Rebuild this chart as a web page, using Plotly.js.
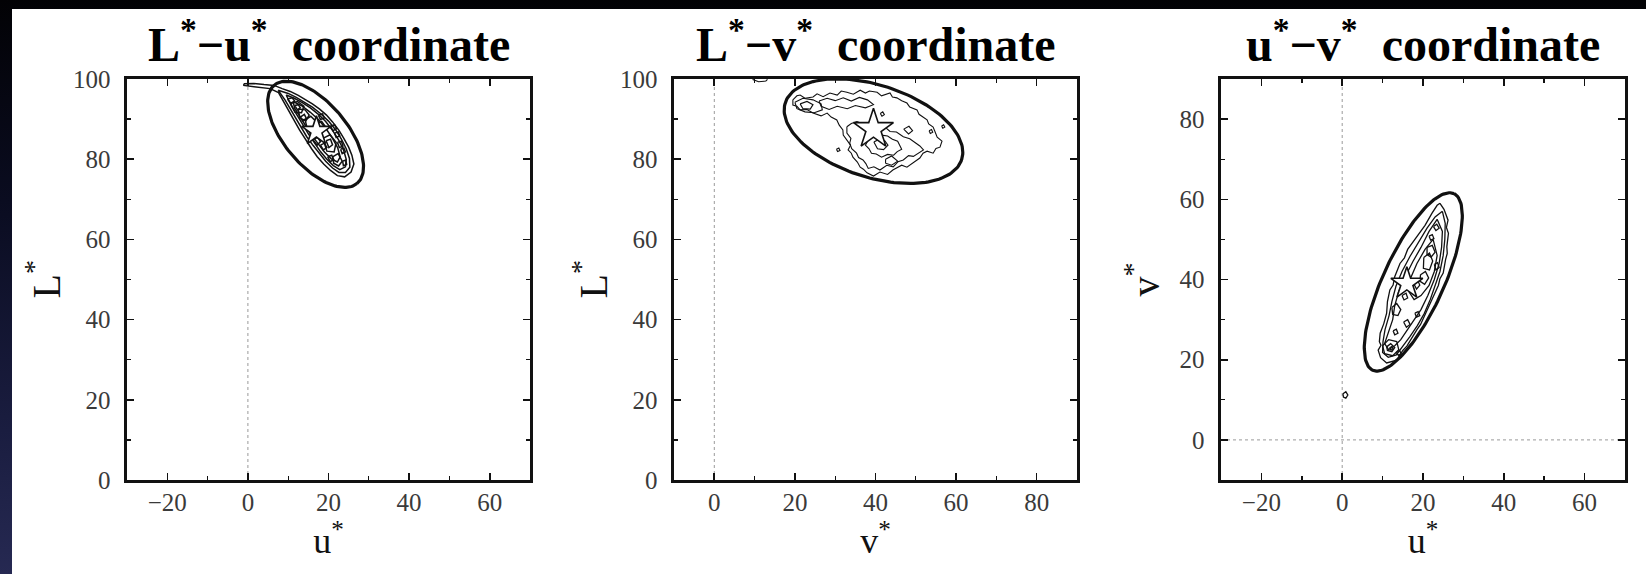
<!DOCTYPE html>
<html><head><meta charset="utf-8">
<script src="https://cdn.plot.ly/plotly-3.0.1.min.js"></script>
<style>
html,body{margin:0;padding:0;width:1646px;height:574px;overflow:hidden;
background:linear-gradient(to bottom,#020205 0%,#0a0c20 35%,#1a1d40 75%,#262952 100%);}
#chart{position:absolute;left:12px;top:9px;width:1634px;height:565px;background:#fff;}
</style></head><body><div id="chart"></div>
<script>
// ---------------- data ----------------
const panelTitles = ['L<sup>*</sup>\u2212u<sup>*</sup>\u00a0 coordinate',
                     'L<sup>*</sup>\u2212v<sup>*</sup>\u00a0 coordinate',
                     'u<sup>*</sup>\u2212v<sup>*</sup>\u00a0 coordinate'];
const xTitles = ['u<sup>*</sup>', 'v<sup>*</sup>', 'u<sup>*</sup>'];
const yTitles = ['L<sup>*</sup>', 'L<sup>*</sup>', 'v<sup>*</sup>'];
const xRanges = [[-30, 70], [-10, 90], [-30, 70]];
const yRanges = [[0, 100], [0, 100], [-10, 90]];

// mean colour (star) per panel
const meanX = [17, 39.5, 16];
const meanY = [87, 87.5, 39];

// confidence ellipses: centre, semi-axes, orientation (deg)
const ellipseCenterX = [16.8, 39.5, 17.6];
const ellipseCenterY = [86.2, 87.0, 39.4];
const ellipseMajor = [16.0, 23.0, 24.2];
const ellipseMinor = [7.8, 11.5, 7.5];
const ellipseAngle = [-50, -18, 65.5];

// density contours, L*-u* plane (u*, L*)
const contoursLU = [
 [[-1,98.8],[1.5,98.9],[4,98.6],[6.5,98.4],[8.5,97.6],[10.5,96.9],[12.5,95.9],[14.5,94.8],[16,93.8],[17.8,92.5],[19.5,91],[21,89.3],[22.6,87.2],[23.8,85.2],[25,83],[25.8,81],[26.3,78.8],[25.6,76.8],[24,75.6],[22.2,75.9],[20.5,77.2],[18.8,78.8],[17.2,80.6],[15.8,82.6],[14.3,84.8],[12.8,87.3],[11.4,89.8],[10,92.2],[8.8,94.6],[7.6,96.6],[5.5,97.6],[3,97.9],[0.5,98.2],[-1,98.4],[-1,98.8]],
 [[7.5,97.2],[10,96.4],[12,95.4],[14,94.3],[16,93],[18,91.4],[20,89.5],[21.8,87.3],[23.2,85],[24.4,82.6],[25.2,80.2],[25.3,78],[24.2,76.7],[22.6,76.7],[21,77.8],[19.3,79.5],[17.8,81.3],[16.2,83.4],[14.6,85.6],[13.2,88],[11.8,90.4],[10.5,92.7],[9.2,94.8],[7.5,97.2]],
 [[9.5,96],[11.5,95.2],[13.5,94.1],[15.5,92.8],[17.5,91.2],[19.3,89.4],[21,87.2],[22.5,84.8],[23.7,82.4],[24.4,80],[24.2,78.1],[22.8,77.4],[21.2,78.4],[19.6,80],[18,81.9],[16.5,84],[15,86.3],[13.6,88.7],[12.2,91],[10.8,93.3],[9.5,96]],
 [[11.2,94.4],[13.4,93.3],[15.5,91.7],[17.6,89.8],[19.4,87.6],[21,85.2],[22.3,82.8],[22.9,80.6],[22.2,79.3],[20.7,80.1],[19,81.8],[17.4,83.8],[15.8,86],[14.3,88.4],[12.8,90.8],[11.6,92.7],[11.2,94.4]],
 [[10.6,93.9],[12.3,94.4],[13.9,93.2],[13.3,91.6],[11.7,91.7],[10.6,93.9]],
 [[11.6,93.4],[12.5,93.6],[13,92.8],[12.3,92.3],[11.6,93.4]],
 [[14.2,89.8],[15.6,90.7],[16.9,89.4],[16,87.7],[14.6,88.1],[14.2,89.8]],
 [[18.6,85.2],[20.4,86.1],[21.9,84.2],[21.4,81.8],[19.6,82],[18.6,85.2]],
 [[19.4,84.6],[20.5,85],[21,83.6],[20.1,82.9],[19.4,84.6]],
 [[21,80.6],[22.4,81.4],[23.4,79.5],[22.5,78.3],[21.3,79],[21,80.6]],
 [[16.2,84.8],[17.3,85.5],[18,84.4],[17.2,83.5],[16.2,84.8]],
 [[13,90.5],[14,91.2],[14.5,90.2],[13.6,89.6],[13,90.5]],
 [[20.5,88.2],[21.5,88.6],[22,87.6],[21.1,87.1],[20.5,88.2]],
 [[23,82.5],[23.8,82.8],[24.2,81.8],[23.4,81.4],[23,82.5]],
 [[12.5,92.5],[14.2,92.3],[15.2,91],[14.4,89.6],[12.9,90.2],[12.5,92.5]],
 [[16.8,88.8],[18.3,89.4],[19.3,88],[18.4,86.6],[17,87.2],[16.8,88.8]],
 [[18,83.5],[19,84],[19.6,82.9],[18.7,82.3],[18,83.5]],
 [[22.2,84.2],[23.2,84.5],[23.6,83.3],[22.7,82.9],[22.2,84.2]],
 [[19.8,80.6],[20.8,81],[21.3,79.9],[20.4,79.4],[19.8,80.6]],
 [[15,87.4],[16,87.8],[16.4,86.7],[15.5,86.3],[15,87.4]],
 [[9.8,95],[11,95.3],[11.6,94.5],[10.6,94],[9.8,95]],
 [[17.5,91],[18.5,91.3],[19,90.3],[18,89.9],[17.5,91]],
 [[21.5,86.5],[22.4,86.8],[22.8,85.8],[21.9,85.4],[21.5,86.5]],
 [[23.5,79.5],[24.3,79.8],[24.5,78.7],[23.7,78.4],[23.5,79.5]]
];

// density contours, L*-v* plane (v*, L*)
const contoursLV = [
 [[19.5,94.8],[20.5,95.8],[21.3,96],[22.5,95.2],[24.5,95.5],[25.5,96.3],[27,95.6],[28.7,96.5],[30.5,96],[31.5,97],[32.9,96.7],[34.5,96.2],[36.2,97.2],[37.5,96.5],[38.5,97],[40.4,96.7],[41.5,95.8],[43.6,96.5],[44.2,95.5],[45.3,95.3],[46.5,94.6],[47.8,94],[48.5,93],[50.3,92.3],[50.8,91.2],[52.8,89.8],[53.2,88.8],[54.3,88],[54.8,86.8],[55.3,85.5],[56.5,84.5],[56,83],[55,82.7],[54.3,81.5],[52.8,82],[51.8,81.5],[51,80.3],[50.3,79.8],[49,79],[47.8,78],[46.5,78.5],[44.3,77.3],[43,76.2],[41.1,76.8],[39.5,75.8],[37.9,76.6],[37,77.5],[36.2,78],[35.5,79.3],[34.4,80.5],[34,81.5],[33.2,82.3],[33.8,83.5],[32.9,84.8],[32,86],[31.9,87.3],[31,88.5],[30.4,89.8],[29,90.5],[28,91.5],[26.5,90.8],[24.5,91.5],[23,92.4],[21.3,92.3],[20.5,93.2],[19.5,93.5],[19.5,94.8]],
 [[26,94.5],[28,95.2],[30,94.6],[32,95.3],[34,94.5],[36,95.4],[38,94.8],[39.5,93.6],[37.5,92.8],[35,93.4],[33,92.6],[30.5,93.2],[28.5,92.4],[26.5,93.2],[26,94.5]],
 [[32.9,88.1],[34,88.9],[35.4,89.4],[37,88.8],[38.6,89.3],[40.3,88.1],[42,88.3],[43.6,86.9],[45.2,86.8],[46.9,85.6],[48.5,85.1],[50.2,84],[51,83.3],[51.9,82.3],[50.6,81.4],[49.4,80.7],[48.2,80.9],[46.9,79.8],[45.6,79.4],[44.4,78.1],[42.8,78.5],[41.1,77.3],[39.6,78.1],[38.2,77.7],[37.6,78.9],[36.9,79.8],[35.8,80.4],[35.3,81.5],[34.1,82.6],[33.6,84],[33.9,85.2],[32.9,86.5],[32.9,88.1]],
 [[37.5,85.5],[38.8,86.3],[40,86.5],[41.5,86],[43,85.8],[44.2,85],[45.5,84.5],[46.5,82.5],[45.4,81.9],[44.5,81],[43,81.2],[41.5,80.5],[40.2,81.3],[39,81.5],[38.4,82.6],[37.5,83.5],[38,84.4],[37.5,85.5]],
 [[39.6,84.3],[40.9,85],[42.3,84.6],[43.1,83.5],[42,82.4],[40.5,82.6],[39.6,84.3]],
 [[42.5,80],[44,80.8],[45.5,79.5],[44,78.5],[42.5,79],[42.5,80]],
 [[20,94.2],[22,95.2],[24.5,94.8],[26.5,93.8],[26.8,92.3],[24.8,91.6],[22.5,91.8],[20.5,92.6],[20,94.2]],
 [[21.3,93.8],[23,94.4],[24.5,93.6],[23.8,92.5],[22,92.6],[21.3,93.8]],
 [[47,87.5],[48.3,88.2],[49.2,87.1],[48.2,86.3],[47,87.5]],
 [[41.2,91.4],[41.8,91.8],[42.2,91.1],[41.6,90.7],[41.2,91.4]],
 [[30.3,82.5],[30.9,82.8],[31.2,82.2],[30.6,81.9],[30.3,82.5]],
 [[53.3,87.1],[53.9,87.4],[54.2,86.7],[53.6,86.4],[53.3,87.1]],
 [[56.4,88.3],[56.9,88.6],[57.2,88],[56.7,87.7],[56.4,88.3]],
 [[9.5,99.9],[11,99.3],[12.8,99.5],[13.2,99.9]]
];

// density contours, u*-v* plane (u*, v*)
const contoursUV = [
 [[24.2,59],[25.2,57.5],[26.2,54.8],[25.8,53],[26.3,51.5],[25.9,48.2],[26,46.5],[25.6,45],[25,41.6],[24.2,40.2],[23.8,38.5],[22.5,35.7],[22,34.3],[21.3,32.8],[20,29.9],[19.4,28.8],[18.5,27.5],[16.8,24.9],[16,23.4],[15,22.3],[13.5,19.9],[11,19.2],[9.5,20.5],[8.9,22.4],[9.6,23.6],[9.2,24.5],[9.4,26.6],[10.3,29],[10.6,30.4],[11,31.6],[11.2,34.5],[11.8,37.4],[12.6,38.6],[13,40.7],[14.3,44],[15.4,45.4],[16.2,47.5],[18.4,50.7],[19.3,51.8],[20.5,53.5],[22.2,56.5],[23.5,58.5],[24.2,59]],
 [[24.8,57],[25.5,54],[25.4,50],[25,46],[24.2,42],[23,38.5],[21.8,35],[20.3,31.5],[18.6,28.5],[16.8,25.8],[15,23.2],[13.4,21.2],[11.4,20.6],[10,21.8],[10.1,24.5],[10.6,27.5],[11.6,31],[12.3,34.5],[13.3,38.3],[14.8,42],[16.8,45.8],[18.9,49.4],[21,52.8],[23,55.6],[24.8,57]],
 [[23.5,55],[24.8,52],[24.6,48],[24,44],[22.8,40],[21.2,36],[19.5,32.5],[17.5,29.5],[16,27],[14.5,25],[13,23.5],[11.5,22.5],[10.5,24],[11.5,27],[12.5,30],[13,33.5],[14,37],[15.5,40.5],[17.5,44.5],[19.5,48],[21.5,52],[23.5,55]],
 [[22.5,50],[23.5,46],[22.8,42],[21.5,38.5],[19.5,36],[17.8,35],[16.5,37],[17,40.5],[18.5,44],[20.5,47.5],[22.5,50]],
 [[20.2,45.5],[21.6,46.6],[22.4,44.6],[21.6,42.4],[20.1,42.8],[20.2,45.5]],
 [[19.4,41.2],[20.6,42],[21.4,40.4],[20.4,38.8],[19.2,39.6],[19.4,41.2]],
 [[12.3,33],[13.5,34],[14.5,32.5],[13.8,31],[12.5,31.3],[12.3,33]],
 [[15.2,29.4],[16.2,30],[16.8,28.8],[15.9,28.1],[15.2,29.4]],
 [[10,23.5],[11.5,25],[13.5,24.5],[14,22.5],[12.5,21],[10.5,21.5],[10,23.5]],
 [[11,23.2],[12,24],[13,23],[12.3,22],[11.2,22.3],[11,23.2]],
 [[22.6,53.2],[23.4,53.8],[24,52.8],[23.2,52.2],[22.6,53.2]],
 [[21,48],[22.3,48.5],[23,46.8],[22,45.6],[21,46.2],[21,48]],
 [[17.6,39.2],[18.6,40],[19.2,38.6],[18.4,37.6],[17.6,39.2]],
 [[22.8,43.8],[23.6,44.2],[24,43],[23.2,42.4],[22.8,43.8]],
 [[14.8,36],[15.8,36.6],[16.2,35.4],[15.3,34.9],[14.8,36]],
 [[18,31.6],[18.8,32],[19.2,31],[18.4,30.6],[18,31.6]],
 [[12.6,27.2],[13.4,27.6],[13.8,26.6],[13,26.2],[12.6,27.2]],
 [[21.5,50.8],[22.3,51.2],[22.7,50.2],[21.9,49.8],[21.5,50.8]],
 [[11.7,22.9],[12.3,23.3],[12.6,22.7],[12.1,22.4],[11.7,22.9]],
 [[13.4,21.8],[14.2,22.3],[14.6,21.5],[13.9,21.1],[13.4,21.8]],
 [[0.2,11.5],[0.9,12],[1.4,11.2],[0.9,10.4],[0.3,10.7],[0.2,11.5]]
];
const panelContours = [contoursLU, contoursLV, contoursUV];
const starSizes = [22, 30, 24];

// ---------------- layout geometry (pixels of the page) ----------------
const W = 1634, H = 565, OX = 12, OY = 9;
const plotLeft = [127, 674, 1221], plotRight = [530, 1077, 1625];
const plotTop = 79, plotBottom = 480;
const yTitleCenterX = [44, 591, 1143];
const px2x = p => (p - OX) / W;
const py2y = p => 1 - (p - OY) / H;

const ink = '#111';
const serif = 'Liberation Serif, Times New Roman, serif';
const contourWidths = [1.5, 1.1, 1.3];

function ellipsePts(i) {
  const xs = [], ys = [], N = 160, th = ellipseAngle[i] * Math.PI / 180;
  for (let k = 0; k <= N; k++) {
    const t = 2 * Math.PI * k / N;
    const a = ellipseMajor[i] * Math.cos(t), b = ellipseMinor[i] * Math.sin(t);
    xs.push(ellipseCenterX[i] + a * Math.cos(th) - b * Math.sin(th));
    ys.push(ellipseCenterY[i] + a * Math.sin(th) + b * Math.cos(th));
  }
  return [xs, ys];
}

const traces = [];
const layout = {
  width: W, height: H, showlegend: false,
  margin: {l: 0, r: 0, t: 0, b: 0},
  paper_bgcolor: '#fff', plot_bgcolor: '#fff',
  annotations: [], shapes: []
};

for (let i = 0; i < 3; i++) {
  const sfx = i === 0 ? '' : String(i + 1);
  const xa = 'x' + sfx, ya = 'y' + sfx;
  const cx = [], cy = [];
  panelContours[i].forEach(loop => {
    loop.forEach(p => { cx.push(p[0]); cy.push(p[1]); });
    cx.push(null); cy.push(null);
  });
  traces.push({type: 'scatter', mode: 'lines', x: cx, y: cy, xaxis: xa, yaxis: ya,
    line: {color: ink, width: contourWidths[i]}, hoverinfo: 'skip'});
  const [ex, ey] = ellipsePts(i);
  traces.push({type: 'scatter', mode: 'lines', x: ex, y: ey, xaxis: xa, yaxis: ya,
    line: {color: ink, width: 3.2}, hoverinfo: 'skip'});
  traces.push({type: 'scatter', mode: 'markers', x: [meanX[i]], y: [meanY[i]], xaxis: xa, yaxis: ya,
    marker: {symbol: 'star', size: starSizes[i], color: '#fff', line: {color: ink, width: 1.6}}});

  const common = {
    showgrid: false, zeroline: false, showline: true, linewidth: 2.6, linecolor: ink,
    mirror: 'ticks', ticks: 'inside', ticklen: 7, tickwidth: 1.6, tickcolor: ink,
    tick0: 0, dtick: 20, fixedrange: true, automargin: false,
    minor: {dtick: 10, ticks: 'inside', ticklen: 4, tickwidth: 1.4, tickcolor: ink, showgrid: false},
    tickfont: {family: serif, size: 25, color: '#3a3a3a'}
  };
  layout['xaxis' + sfx] = Object.assign({}, common, {
    anchor: ya, range: xRanges[i], ticklabelstandoff: -2,
    domain: [px2x(plotLeft[i]), px2x(plotRight[i])],
    title: {text: xTitles[i], font: {family: serif, size: 36, color: ink}, standoff: 2}
  });
  layout['yaxis' + sfx] = Object.assign({}, common, {
    anchor: xa, range: yRanges[i], ticklabelstandoff: 9,
    domain: [py2y(plotBottom), py2y(plotTop)]
  });
  // y axis title, rotated
  layout.annotations.push({
    text: yTitles[i], showarrow: false, textangle: -90,
    xref: 'paper', yref: 'paper',
    x: px2x(yTitleCenterX[i]), y: py2y((plotTop + plotBottom) / 2),
    xanchor: 'center', yanchor: 'middle',
    font: {family: serif, size: 40, color: ink}
  });
  layout.shapes.push({type: 'line', xref: xa, yref: ya + ' domain', x0: 0, x1: 0, y0: 0, y1: 1,
    layer: 'below', line: {color: '#9a9a9a', width: 1, dash: 'dot'}});
  if (yRanges[i][0] < 0) {
    layout.shapes.push({type: 'line', xref: xa + ' domain', yref: ya, x0: 0, x1: 1, y0: 0, y1: 0,
      layer: 'below', line: {color: '#9a9a9a', width: 1, dash: 'dot'}});
  }
  layout.annotations.push({
    text: '<b>' + panelTitles[i] + '</b>', showarrow: false,
    xref: 'paper', yref: 'paper',
    x: px2x((plotLeft[i] + plotRight[i]) / 2), y: py2y(41),
    xanchor: 'center', yanchor: 'middle',
    font: {family: serif, size: 48, color: '#000'}
  });
}

Plotly.newPlot('chart', traces, layout, {displayModeBar: false, staticPlot: true});
</script></body></html>
